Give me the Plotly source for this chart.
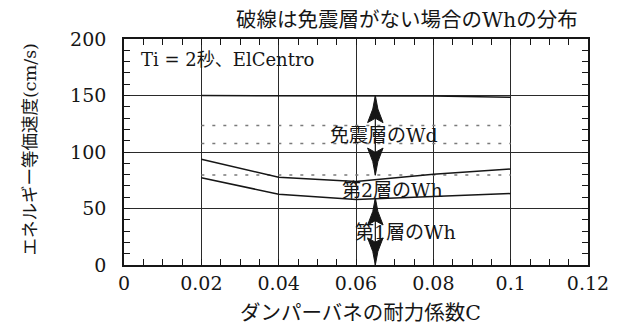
import plotly.graph_objects as go

# Damper spring strength coefficient C
c_vals = [0.02, 0.04, 0.06, 0.08, 0.1]
# Total input energy (cm/s)
total_wh = [150, 150, 150, 149.5, 148.5]
# Wh of 1st + 2nd storey
wh_upper = [93.5, 77.6, 73.8, 80.4, 85.0]
# Wh of 1st storey
wh_first = [77.3, 62.6, 58.0, 60.5, 63.2]
# Wh distribution without the isolation layer (dashed)
ref_c = [0.02, 0.1]
ref_levels = [123.5, 107.5, 79.6]

# Double arrows showing the share of each layer
arrow_c = 0.065
arrow_spans = [[150, 79.5], [59.4, 0]]

labels = [
    ("免震層のWd", 0.0672, 115.0),
    ("第2層のWh", 0.0695, 66.5),
    ("第1層のWh", 0.0728, 29.5),
]

SERIF = "DejaVu Serif, Noto Sans CJK JP, serif"
INK = "#161616"

fig = go.Figure()

for lvl in ref_levels:
    fig.add_trace(go.Scatter(
        x=ref_c, y=[lvl, lvl], mode="lines",
        line=dict(color="#7a7a7a", width=1.6, dash="3px,8px"),
        hoverinfo="skip"))

for ys in (total_wh, wh_upper, wh_first):
    fig.add_trace(go.Scatter(
        x=c_vals, y=ys, mode="lines",
        line=dict(color=INK, width=1.5), hoverinfo="skip"))

# arrow shafts and heads
HEAD_W = 0.002
HEAD_H = 24.0


def head(x0, y0, d):
    w, h = HEAD_W, HEAD_H
    xs = [x0, x0 + 0.33 * w, x0 + w, x0, x0 - w, x0 - 0.33 * w, x0]
    ys = [y0, y0 - d * 0.5 * h, y0 - d * h, y0 - d * 0.84 * h,
          y0 - d * h, y0 - d * 0.5 * h, y0]
    return xs, ys


for top, bottom in arrow_spans:
    fig.add_trace(go.Scatter(
        x=[arrow_c, arrow_c], y=[top, bottom], mode="lines",
        line=dict(color=INK, width=1.2), hoverinfo="skip"))
    for y0, d in ((top, 1), (bottom, -1)):
        hx, hy = head(arrow_c, y0, d)
        fig.add_trace(go.Scatter(
            x=hx, y=hy, mode="lines", fill="toself",
            fillcolor=INK, line=dict(color=INK, width=1),
            hoverinfo="skip"))

annotations = []
for text, x, y in labels:
    annotations.append(dict(
        x=x, y=y, xref="x", yref="y", text=text, showarrow=False,
        font=dict(family=SERIF, size=19, color=INK)))

annotations += [
    dict(x=0.004, y=182, xref="x", yref="y", xanchor="left",
         text="Ti = 2秒、ElCentro", showarrow=False,
         font=dict(family=SERIF, size=18, color=INK)),
    dict(x=0.982, y=1.085, xref="paper", yref="paper", xanchor="right",
         yanchor="middle", text="破線は免震層がない場合のWhの分布",
         showarrow=False, font=dict(family=SERIF, size=20.5, color=INK)),
    dict(x=-0.229, y=0.51, xref="paper", yref="paper", textangle=-90,
         text="エネルギー等価速度(cm/s)", showarrow=False,
         font=dict(family=SERIF, size=17.5, color=INK)),
    dict(x=0.51, y=-0.212, xref="paper", yref="paper", yanchor="middle",
         text="ダンパーバネの耐力係数C", showarrow=False,
         font=dict(family=SERIF, size=20.5, color=INK)),
]

axis_common = dict(
    showline=True, linecolor=INK, linewidth=1.5, mirror="allticks",
    ticks="inside", ticklen=6, tickcolor=INK, tickwidth=1,
    showgrid=True, gridcolor="#2a2a2a", gridwidth=1, zeroline=False,
    tickfont=dict(family=SERIF, size=19, color=INK),
)

fig.update_layout(
    width=621, height=328,
    margin=dict(l=124, r=29, t=39, b=63),
    paper_bgcolor="white", plot_bgcolor="white",
    showlegend=False,
    annotations=annotations,
)
fig.update_xaxes(range=[0, 0.12], dtick=0.02, tick0=0, **axis_common)
fig.update_yaxes(range=[0, 200], dtick=50, tick0=0,
                 ticksuffix="\u00a0\u00a0", **axis_common)
fig.update_xaxes(minor_ticks="inside", minor_ticklen=6, minor_dtick=0.005,
                 minor_tickcolor=INK, minor_tickwidth=1)
fig.update_yaxes(minor_ticks="inside", minor_ticklen=6, minor_dtick=10,
                 minor_tickcolor=INK, minor_tickwidth=1)

fig.write_html("out.html")
